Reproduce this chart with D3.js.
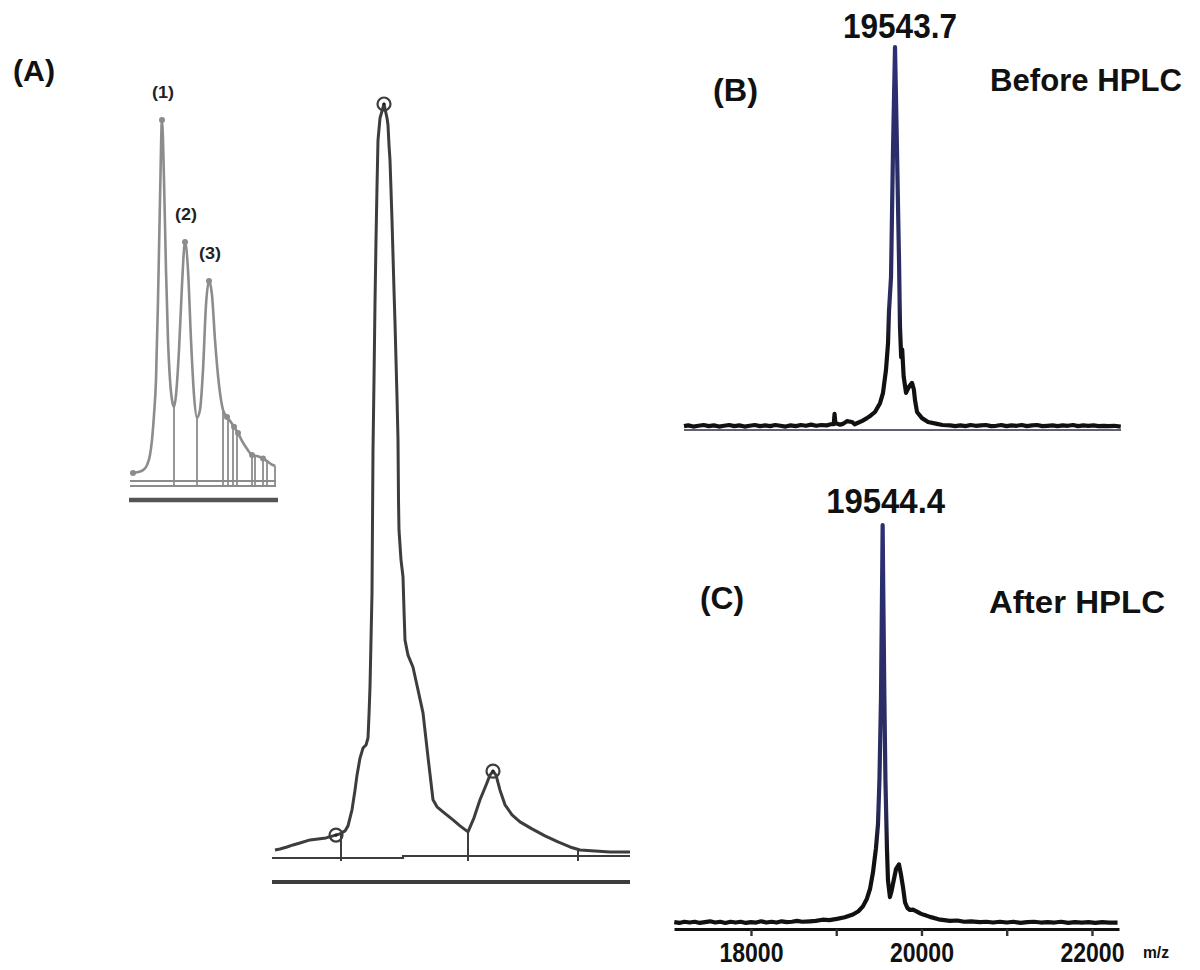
<!DOCTYPE html>
<html>
<head>
<meta charset="utf-8">
<script src="https://cdn.jsdelivr.net/npm/d3@7"></script>
<style>
  body { margin: 0; background: #fff; }
  svg { display: block; }
</style>
</head>
<body>
<svg id="fig" width="1200" height="970"></svg>
<script>
// ---------- Panel A: HPLC traces ----------
// analytical run (inset): retention time (min) and absorbance (mAU)
const insetTime   = [0.6, 1.6, 2.6, 3.4, 4.0, 4.4, 4.8, 5.2, 5.6, 6.0, 6.4, 6.8, 7.2, 7.6, 8.0, 8.4, 8.8, 9.2, 9.8, 10.4, 11.0, 11.6, 12.2, 12.8, 13.4, 14.0, 14.6, 15.2, 15.8, 16.4, 17.0, 17.8, 18.6, 19.4, 20.2, 20.8, 21.6, 22.4, 23.4, 24.4, 25.4, 26.4, 27.4, 28.2, 29.0];
const insetSignal = [22, 25, 30, 44, 72, 114, 183, 280, 501, 778, 1000, 834, 584, 391, 280, 224, 205, 238, 363, 543, 662, 584, 391, 238, 175, 197, 307, 488, 554, 515, 391, 266, 197, 177, 163, 150, 133, 111, 89, 72, 69, 64, 55, 47, 42];
const insetCuts   = [8.8, 13.4, 18.6, 19.6, 20.6, 21.4, 24.4, 25.0, 26.6, 27.4, 29.0];
const insetDots   = [0.6, 6.4, 11.0, 15.8, 19.4, 20.8, 21.6, 24.4, 26.6];
const insetPeaks  = [6.4, 11.0, 15.8];
const insetPeakNames = ["(1)", "(2)", "(3)"];

// preparative run: retention time (min) and absorbance (mAU)
const mainTime   = [0.4, 1.4, 2.8, 4.0, 5.4, 7.4, 9.0, 10.6, 12.0, 13.4, 14.4, 15.0, 15.4, 15.8, 16.4, 16.8, 17.4, 18.0, 18.6, 19.0, 19.2, 19.4, 19.6, 19.8, 20.0, 20.2, 20.4, 20.6, 20.8, 21.0, 21.4, 22.2, 22.8, 23.0, 23.2, 23.4, 23.6, 23.8, 24.0, 24.2, 24.4, 24.6, 24.8, 25.0, 25.1, 25.2, 25.6, 26.0, 26.2, 26.4, 27.0, 28.0, 29.0, 30.0, 31.0, 32.0, 32.8, 34.0, 36.0, 37.4, 39.0, 40.2, 41.4, 42.6, 43.4, 44.0, 44.6, 45.4, 46.4, 47.8, 49.4, 51.8, 54.4, 57.0, 59.4, 61.4, 64.4, 67.4, 71.4];
const mainSignal = [14, 16, 20, 24, 28, 34, 36, 38, 42, 46, 52, 62, 78, 94, 133, 163, 197, 217, 223, 237, 283, 339, 432, 526, 811, 950, 1104, 1229, 1335, 1428, 1472, 1500, 1472, 1458, 1418, 1388, 1329, 1269, 1199, 1129, 1064, 990, 916, 831, 711, 651, 592, 558, 492, 432, 402, 378, 333, 287, 199, 114, 100, 90, 74, 62, 50, 78, 114, 143, 163, 171, 163, 133, 104, 84, 70, 56, 42, 30, 20, 14, 12, 10, 10];
const mainCuts   = [13.6, 39.0, 61.0];
const mainPeaks  = [12.6, 22.2, 44.0];

// ---------- Panels B and C: deconvoluted mass spectra ----------
const mzBefore  = [17070, 17120, 17180, 17240, 17300, 17360, 17420, 17480, 17540, 17600, 17660, 17720, 17780, 17840, 17900, 17960, 18020, 18080, 18140, 18200, 18260, 18320, 18380, 18440, 18500, 18560, 18620, 18680, 18740, 18790, 18825, 18835, 18845, 18900, 18934, 18980, 19039, 19070, 19110, 19160, 19215, 19260, 19309, 19368, 19403, 19438, 19462, 19473, 19497, 19520, 19543.7, 19567, 19591, 19602, 19616, 19628, 19645, 19673, 19705, 19743, 19765, 19778, 19802, 19860, 19931, 20036, 20100, 20189, 20250, 20310, 20370, 20430, 20490, 20550, 20610, 20670, 20730, 20790, 20850, 20910, 20970, 21030, 21090, 21150, 21210, 21270, 21330, 21390, 21450, 21510, 21570, 21630, 21690, 21750, 21810, 21870, 21930, 21990, 22050, 22110, 22190];
const intBefore = [1.0, 1.2, 0.9, 1.1, 1.3, 1.0, 1.2, 0.9, 1.1, 1.3, 1.0, 1.2, 0.9, 1.1, 1.3, 1.0, 1.2, 1.0, 1.3, 1.1, 0.9, 1.2, 1.0, 1.3, 1.1, 1.4, 1.1, 1.3, 1.2, 1.5, 1.5, 4.2, 1.8, 1.4, 1.6, 2.3, 2.1, 1.5, 1.9, 2.4, 3.1, 3.8, 4.7, 7.0, 9.7, 15.7, 22.7, 31, 40, 73, 100, 73, 44, 27, 19, 21, 14, 9.7, 11.2, 12.3, 10.5, 7.8, 4.7, 3.1, 2.1, 1.6, 1.3, 1.2, 1.0, 1.2, 1.0, 1.3, 1.1, 1.2, 1.3, 1.0, 1.1, 1.3, 1.0, 1.2, 1.1, 1.3, 1.0, 1.2, 1.3, 1.0, 1.1, 1.2, 1.0, 1.2, 1.1, 1.3, 1.0, 1.2, 1.1, 1.2, 1.0, 1.1, 1.0, 1.1, 0.9];

const mzAfter  = [17100, 17160, 17220, 17280, 17340, 17400, 17460, 17520, 17580, 17640, 17700, 17760, 17820, 17880, 17940, 18000, 18060, 18120, 18180, 18240, 18300, 18360, 18420, 18480, 18540, 18600, 18692, 18760, 18840, 18920, 19008, 19100, 19196, 19260, 19313, 19360, 19396, 19431, 19466, 19490, 19507, 19525, 19536, 19544.4, 19553, 19565, 19577, 19595, 19607, 19630, 19650, 19666, 19701, 19736, 19760, 19783, 19807, 19835, 19865, 19900, 19947, 19990, 20029, 20100, 20200, 20334, 20420, 20500, 20580, 20686, 20760, 20840, 20920, 21000, 21080, 21160, 21240, 21320, 21400, 21480, 21560, 21640, 21720, 21800, 21880, 21960, 22040, 22120, 22200, 22300];
const intAfter = [1.7, 1.5, 1.8, 1.6, 1.8, 1.5, 1.7, 1.9, 1.6, 1.8, 1.5, 1.8, 1.6, 1.8, 1.5, 1.7, 1.6, 1.9, 1.6, 1.8, 1.6, 1.9, 1.7, 1.8, 2.0, 1.8, 1.9, 2.0, 2.3, 2.2, 2.5, 2.9, 3.6, 4.4, 5.6, 7.5, 9.9, 14, 20, 26, 37, 57, 81, 100, 81, 57, 37, 20, 12, 7.9, 9.5, 11.2, 14.8, 16, 13.4, 10.4, 6.6, 5.2, 4.7, 4.8, 4.3, 3.8, 3.5, 3.0, 2.4, 2.0, 2.1, 1.8, 1.9, 1.7, 1.8, 1.6, 1.8, 1.6, 1.8, 1.5, 1.7, 1.8, 1.6, 1.7, 1.6, 1.8, 1.5, 1.7, 1.6, 1.7, 1.5, 1.7, 1.6, 1.6];

const peakMasses = [19543.7, 19544.4];
const panelNames = ["(A)", "(B)", "(C)"];
const runNames   = ["Before HPLC", "After HPLC"];
const mzTicks    = [18000, 19000, 20000, 21000, 22000];
const mzUnit     = "m/z";

// ---------- drawing ----------
const FONT = "'Liberation Sans Narrow','Liberation Sans',Arial,sans-serif";
const svg = d3.select("#fig");
const zip = (xs, ys) => xs.map((x, i) => ({ x, y: ys[i] }));
const valueAt = (pts, x) => {
  for (let i = 1; i < pts.length; i++) {
    if (x <= pts[i].x) {
      const a = pts[i - 1], b = pts[i];
      return a.y + (b.y - a.y) * (x - a.x) / (b.x - a.x);
    }
  }
  return pts[pts.length - 1].y;
};
function label(txt, x, y, size, len, anchor = "start", fill = "#111") {
  const t = svg.append("text")
    .attr("x", x).attr("y", y)
    .attr("font-family", FONT).attr("font-weight", "bold")
    .attr("font-size", size).attr("fill", fill)
    .attr("text-anchor", anchor).text(txt);
  if (len) t.attr("textLength", len).attr("lengthAdjust", "spacingAndGlyphs");
  return t;
}

// ---- A: inset analytical chromatogram ----
{
  const x = d3.scaleLinear().domain([0, 29]).range([130, 275]);
  const y = d3.scaleLinear().domain([0, 1000]).range([481, 120]);
  const pts = zip(insetTime, insetSignal);
  const g = svg.append("g").attr("stroke", "#8c8c8c").attr("fill", "none");
  const y0 = y(0);
  // baselines and integration bar
  g.append("line").attr("x1", x(0)).attr("x2", x(29.2)).attr("y1", y0).attr("y2", y0).attr("stroke-width", 2);
  g.append("line").attr("x1", x(0)).attr("x2", x(29.2)).attr("y1", y0 + 5).attr("y2", y0 + 5).attr("stroke-width", 2);
  g.append("line").attr("x1", x(-0.2)).attr("x2", x(29.6)).attr("y1", y0 + 19).attr("y2", y0 + 19)
    .attr("stroke", "#555").attr("stroke-width", 4.5);
  // peak cut marks
  g.selectAll("line.cut").data(insetCuts).join("line").attr("class", "cut")
    .attr("x1", d => x(d)).attr("x2", d => x(d))
    .attr("y1", d => y(valueAt(pts, d))).attr("y2", y0 + 5).attr("stroke-width", 1.8);
  g.append("path").datum(pts)
    .attr("d", d3.line().x(d => x(d.x)).y(d => y(d.y)).curve(d3.curveMonotoneX))
    .attr("stroke-width", 2.6).attr("stroke-linejoin", "round");
  g.selectAll("circle").data(insetDots).join("circle")
    .attr("cx", d => x(d)).attr("cy", d => y(valueAt(pts, d))).attr("r", 3)
    .attr("fill", "#8c8c8c").attr("stroke", "none");
  insetPeaks.forEach((t, i) => {
    label(insetPeakNames[i], x(t) + 1, y(valueAt(pts, t)) - 22, 17, 22, "middle", "#222");
  });
}

// ---- A: preparative chromatogram ----
{
  const x = d3.scaleLinear().domain([0, 71.4]).range([273, 630]);
  const y = d3.scaleLinear().domain([0, 1500]).range([857, 104]);
  const pts = zip(mainTime, mainSignal);
  const g = svg.append("g").attr("stroke", "#3d3d3d").attr("fill", "none");
  const y0 = y(0);
  g.append("path")
    .attr("d", `M${x(-0.2)},${y0 + 1}H${x(26)}V${y0 - 1}H${x(71.4)}`)
    .attr("stroke-width", 2.2);
  g.append("line").attr("x1", x(-0.2)).attr("x2", x(71.4)).attr("y1", y0 + 25).attr("y2", y0 + 25).attr("stroke-width", 4);
  g.selectAll("line.cut").data(mainCuts).join("line").attr("class", "cut")
    .attr("x1", d => x(d)).attr("x2", d => x(d))
    .attr("y1", d => y(valueAt(pts, d))).attr("y2", y0 + 4).attr("stroke-width", 2);
  g.append("path").datum(pts)
    .attr("d", d3.line().x(d => x(d.x)).y(d => y(d.y)))
    .attr("stroke-width", 3).attr("stroke-linejoin", "round");
  mainPeaks.forEach(t => {
    const cx = x(t), cy = y(valueAt(pts, t));
    g.append("circle").attr("cx", cx).attr("cy", cy).attr("r", 6.5).attr("stroke-width", 2.2);
    g.append("circle").attr("cx", cx).attr("cy", cy).attr("r", 1.6).attr("fill", "#222").attr("stroke", "none");
  });
}
label(panelNames[0], 13, 81, 30, 42);

// ---- B / C: mass spectra ----
function spectrum(mz, inten, xDomain, xRange, yBase, yTop, gradId, split) {
  const x = d3.scaleLinear().domain(xDomain).range(xRange);
  const y = d3.scaleLinear().domain([0, 100]).range([yBase, yTop]);
  const grad = svg.append("defs").append("linearGradient").attr("id", gradId)
    .attr("gradientUnits", "userSpaceOnUse").attr("x1", 0).attr("x2", 0)
    .attr("y1", yTop).attr("y2", yBase);
  grad.append("stop").attr("offset", 0).attr("stop-color", "#2c2f72");
  grad.append("stop").attr("offset", split).attr("stop-color", "#2a2c5e");
  grad.append("stop").attr("offset", split + 0.12).attr("stop-color", "#111");
  grad.append("stop").attr("offset", 1).attr("stop-color", "#111");
  svg.append("path").datum(zip(mz, inten))
    .attr("d", d3.line().x(d => x(d.x)).y(d => y(d.y)))
    .attr("fill", "none").attr("stroke", `url(#${gradId})`)
    .attr("stroke-width", 4.2).attr("stroke-linejoin", "round");
  return { x, y };
}

// B: before purification
{
  const { x, y } = spectrum(mzBefore, intBefore, [17070, 22193], [684, 1121], 430, 47, "gB", 0.66);
  svg.append("line").attr("x1", x(17070)).attr("x2", x(22193)).attr("y1", y(0)).attr("y2", y(0))
    .attr("stroke", "#2b2b45").attr("stroke-width", 1.6);
  label(peakMasses[0], x(peakMasses[0]) + 5, 38, 35, 114, "middle");
  label(panelNames[1], 713, 101, 32, 45);
  label(runNames[0], 990, 91, 31, 192);
}

// C: after purification, with m/z axis
{
  const { x, y } = spectrum(mzAfter, intAfter, [17097, 22317], [674, 1119], 929, 525, "gC", 0.7);
  const axis = d3.axisBottom(x).tickValues(mzTicks).tickSize(7).tickSizeOuter(0).tickPadding(6)
    .tickFormat(d => (d % 2000 === 0 ? d : ""));
  const ax = svg.append("g").attr("transform", `translate(0,${y(0)})`).call(axis);
  ax.select(".domain").attr("stroke", "#111").attr("stroke-width", 3.2);
  ax.selectAll(".tick line").attr("stroke", "#333").attr("stroke-width", 2.4);
  ax.selectAll(".tick text")
    .attr("font-family", FONT).attr("font-weight", "bold").attr("font-size", 28).attr("fill", "#111")
    .filter(function () { return this.textContent !== ""; })
    .attr("textLength", 64).attr("lengthAdjust", "spacingAndGlyphs");
  label(mzUnit, 1143, 958, 16, 26);
  label(peakMasses[1], x(peakMasses[1]) + 3, 513, 35, 119, "middle");
  label(panelNames[2], 700, 609, 31, 44);
  label(runNames[1], 989, 613, 31, 176);
}
</script>
</body>
</html>
